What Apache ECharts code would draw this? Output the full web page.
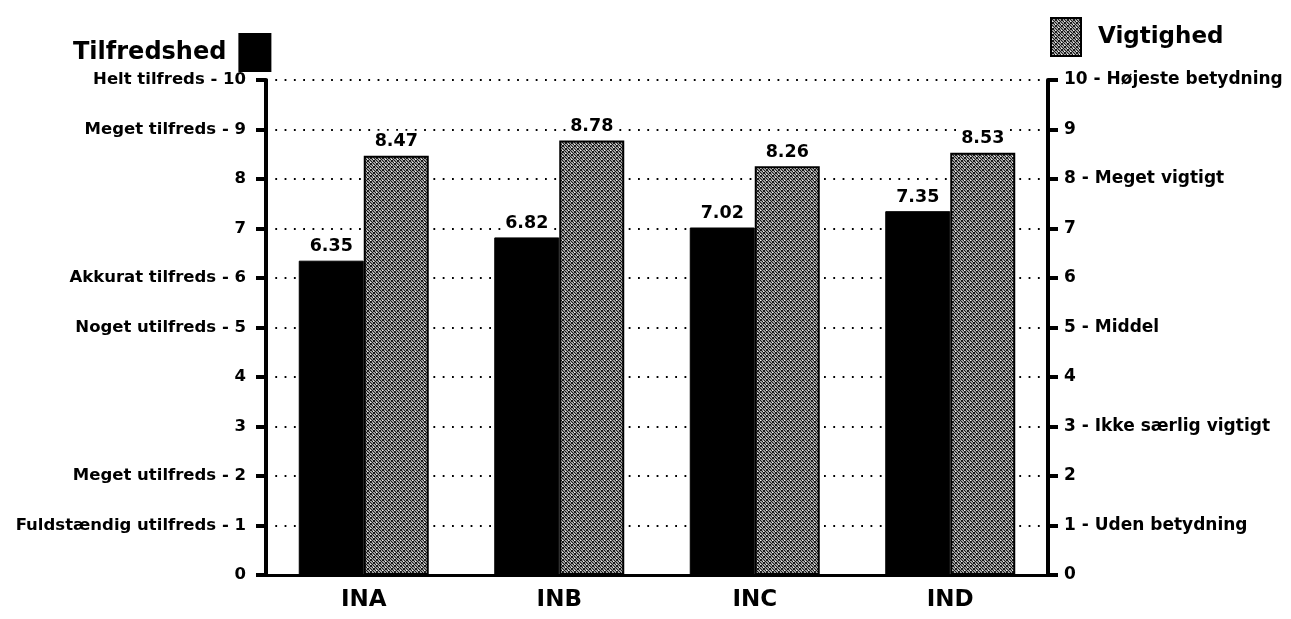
<!DOCTYPE html>
<html>
<head>
<meta charset="utf-8">
<script src="https://cdn.jsdelivr.net/npm/echarts@6/dist/echarts.min.js"></script>
<style>
  html, body { margin: 0; padding: 0; background: #fff; }
  #chart { width: 1291px; height: 619px; }
</style>
</head>
<body>
<div id="chart"></div>
<script>
// Survey results: satisfaction (Tilfredshed) and importance (Vigtighed) per unit
const categories = ['INA', 'INB', 'INC', 'IND'];
const tilfredshed = [6.35, 6.82, 7.02, 7.35];
const vigtighed = [8.47, 8.78, 8.26, 8.53];

// Scale anchor texts for each side
const leftScaleText = {
  10: 'Helt tilfreds - 10',
  9: 'Meget tilfreds - 9',
  6: 'Akkurat tilfreds - 6',
  5: 'Noget utilfreds - 5',
  2: 'Meget utilfreds - 2',
  1: 'Fuldstændig utilfreds - 1'
};
const rightScaleText = {
  10: '10 - Højeste betydning',
  8: '8 - Meget vigtigt',
  5: '5 - Middel',
  3: '3 - Ikke særlig vigtigt',
  1: '1 - Uden betydning'
};

// Halftone-like fill for the importance bars
function makeScreen() {
  const c = document.createElement('canvas');
  c.width = 6; c.height = 6;
  const g = c.getContext('2d');
  g.fillStyle = '#a0a0a0';
  g.fillRect(0, 0, 6, 6);
  g.fillStyle = '#1a1a1a';
  for (let i = 0; i < 6; i++) {
    g.fillRect(i, i % 6, 1, 1);
    g.fillRect(i, (i + 3) % 6, 1, 1);
    g.fillRect(i, (6 - i) % 6, 1, 1);
  }
  g.fillStyle = '#f0f0f0';
  g.fillRect(1, 3, 1, 1);
  g.fillRect(4, 0, 1, 1);
  return c;
}
const screen = { image: makeScreen(), repeat: 'repeat' };

const FONT = '"DejaVu Sans", "Liberation Sans", Arial, sans-serif';

const valueLabel = {
  show: true, position: 'top', distance: 3,
  color: '#000', fontWeight: 'bold', fontSize: 17.5, fontFamily: FONT,
  backgroundColor: '#fff', padding: [2, 3],
  formatter: p => p.value.toFixed(2)
};

const chart = echarts.init(document.getElementById('chart'));
chart.setOption({
  animation: false,
  backgroundColor: '#fff',
  textStyle: { fontFamily: FONT },
  legend: [
    {
      data: ['Tilfredshed'],
      left: 68, top: 28,
      align: 'right',
      icon: 'rect',
      itemWidth: 31, itemHeight: 37,
      selectedMode: false,
      textStyle: { fontFamily: FONT, fontWeight: 'bold', fontSize: 24, color: '#000', padding: [4, 8, 0, 0] }
    },
    {
      data: ['Vigtighed'],
      left: 1045, top: 12,
      align: 'left',
      icon: 'rect',
      itemWidth: 30, itemHeight: 38,
      selectedMode: false,
      textStyle: { fontFamily: FONT, fontWeight: 'bold', fontSize: 23, color: '#000', padding: [0, 0, 0, 12] }
    }
  ],
  grid: { left: 266, right: 243, top: 80, bottom: 44 },
  xAxis: {
    type: 'category',
    data: categories,
    axisLine: { lineStyle: { color: '#000', width: 3 } },
    axisTick: { show: false },
    axisLabel: { color: '#000', fontWeight: 'bold', fontSize: 23, margin: 14, fontFamily: FONT }
  },
  yAxis: [
    {
      type: 'value', min: 0, max: 10, interval: 1, position: 'left',
      axisLine: { show: true, lineStyle: { color: '#000', width: 4 } },
      axisTick: { show: true, length: 10, lineStyle: { color: '#000', width: 4 } },
      axisLabel: {
        color: '#000', fontWeight: 'bold', fontSize: 16.5, margin: 20, fontFamily: FONT,
        formatter: v => leftScaleText[v] || String(v)
      },
      splitLine: { show: true, lineStyle: { color: '#000', width: 1.8, type: [1.8, 7.5] } }
    },
    {
      type: 'value', min: 0, max: 10, interval: 1, position: 'right',
      axisLine: { show: true, lineStyle: { color: '#000', width: 4 } },
      axisTick: { show: true, length: 10, lineStyle: { color: '#000', width: 4 } },
      axisLabel: {
        color: '#000', fontWeight: 'bold', fontSize: 17, margin: 16, fontFamily: FONT,
        formatter: v => rightScaleText[v] || String(v)
      },
      splitLine: { show: false }
    }
  ],
  series: [
    {
      name: 'Tilfredshed',
      type: 'bar',
      yAxisIndex: 0,
      data: tilfredshed,
      barWidth: 65,
      barGap: '0%',
      itemStyle: { color: '#000', borderColor: '#000', borderWidth: 1 },
      label: valueLabel
    },
    {
      name: 'Vigtighed',
      type: 'bar',
      yAxisIndex: 1,
      data: vigtighed,
      barWidth: 65,
      barGap: '0%',
      itemStyle: { color: screen, borderColor: '#000', borderWidth: 2 },
      label: valueLabel
    }
  ]
});
</script>
</body>
</html>
